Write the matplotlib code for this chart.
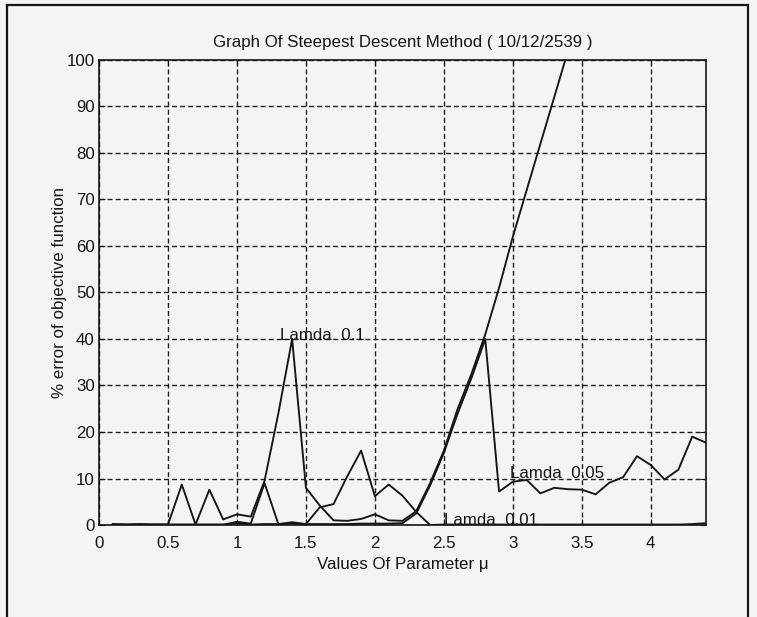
import matplotlib
matplotlib.use("Agg")
import matplotlib.pyplot as plt
from matplotlib.lines import Line2D

# values of parameter mu (step 0.1)
mu = [0.1, 0.2, 0.3, 0.4, 0.5, 0.6, 0.7, 0.8, 0.9, 1.0,
      1.1, 1.2, 1.3, 1.4, 1.5, 1.6, 1.7, 1.8, 1.9, 2.0,
      2.1, 2.2, 2.3, 2.4, 2.5, 2.6, 2.7, 2.8, 2.9, 3.0,
      3.1, 3.2, 3.3, 3.4, 3.5, 3.6, 3.7, 3.8, 3.9, 4.0,
      4.1, 4.2, 4.3, 4.4]

# % error, lamda = 0.1 (diverges after mu = 2.2)
err_l01 = [0.2, 0.1, 0.2, 0.1, 0.1, 8.7, 0.1, 7.6, 1.2, 2.3,
           1.8, 9.5, 24.0, 40.0, 8.0, 4.2, 1.0, 0.9, 1.3, 2.3,
           1.0, 0.9, 3.0, 9.0, 16.0, 25.0, 32.5, 41.0, 51.0, 62.0,
           72.0, 82.0, 92.0, 102.0]

# % error, lamda = 0.05
err_l005 = [0.1, 0.1, 0.1, 0.1, 0.1, 0.1, 0.1, 0.1, 0.1, 0.4,
            0.1, 0.2, 0.2, 0.3, 0.2, 0.2, 0.2, 0.2, 0.3, 0.3,
            0.3, 0.4, 2.5, 8.5, 15.5, 24.0, 31.6, 40.0, 7.2, 9.3,
            9.7, 6.8, 8.0, 7.7, 7.6, 6.6, 9.1, 10.3, 14.8, 12.9,
            9.8, 11.9, 19.0, 17.7]

# % error, lamda = 0.01
err_l001 = [0.05, 0.05, 0.05, 0.05, 0.05, 0.05, 0.05, 0.05, 0.05, 0.7,
            0.3, 9.0, 0.2, 0.6, 0.2, 3.8, 4.5, 10.5, 16.0, 6.2,
            8.7, 6.3, 2.8, 0.0, 0.1, 0.1, 0.1, 0.1, 0.1, 0.1,
            0.1, 0.1, 0.1, 0.1, 0.1, 0.1, 0.1, 0.1, 0.1, 0.1,
            0.1, 0.1, 0.2, 0.4]

plt.rcParams['font.family'] = ['Liberation Sans', 'DejaVu Sans']
plt.rcParams['font.size'] = 12.2

paper = '#f4f4f1'
ink = '#151515'
fig = plt.figure(figsize=(7.57, 6.17), dpi=100, facecolor=paper)
ax = fig.add_axes([0.1308, 0.1491, 0.8018, 0.7537])
ax.set_facecolor(paper)

ax.plot(mu[:len(err_l01)], err_l01, color=ink, linewidth=1.35)
ax.plot(mu, err_l005, color=ink, linewidth=1.35)
ax.plot(mu, err_l001, color=ink, linewidth=1.35)

ax.text(1.31, 40.8, 'Lamda  0.1', va='center', ha='left', color=ink)
ax.text(2.98, 11.0, 'Lamda  0.05', va='center', ha='left', color=ink)
ax.text(2.50, 0.9, 'Lamda  0.01', va='center', ha='left', color=ink)

ax.set_xlim(0, 4.4)
ax.set_ylim(0, 100)
ax.set_xticks([0, 0.5, 1, 1.5, 2, 2.5, 3, 3.5, 4])
ax.set_xticklabels(['0', '0.5', '1', '1.5', '2', '2.5', '3', '3.5', '4'])
ax.set_yticks(range(0, 101, 10))
ax.tick_params(axis='both', direction='in', length=4, width=0.8,
               top=True, right=True, colors=ink)
ax.tick_params(axis='x', pad=8)
ax.tick_params(axis='y', pad=3)

ax.grid(True, color='#202020', linestyle=(0, (3.6, 2.2)), linewidth=1.0)
for sp in ax.spines.values():
    sp.set_linewidth(1.2)
    sp.set_color(ink)

ax.set_title('Graph Of Steepest Descent Method ( 10/12/2539 )', pad=9,
             fontsize=12.2, color=ink)
ax.set_xlabel('Values Of Parameter μ', labelpad=4, color=ink)
ax.set_ylabel('% error of objective function', labelpad=0, color=ink)

# page frame around the figure
frame = dict(color=ink, linewidth=1.6, transform=fig.transFigure)
fig.add_artist(Line2D([0.009, 0.988], [0.992, 0.992], **frame))
fig.add_artist(Line2D([0.009, 0.009], [0.0, 0.992], **frame))
fig.add_artist(Line2D([0.988, 0.988], [0.0, 0.992], **frame))

fig.savefig('out.png', dpi=100, facecolor=paper)
